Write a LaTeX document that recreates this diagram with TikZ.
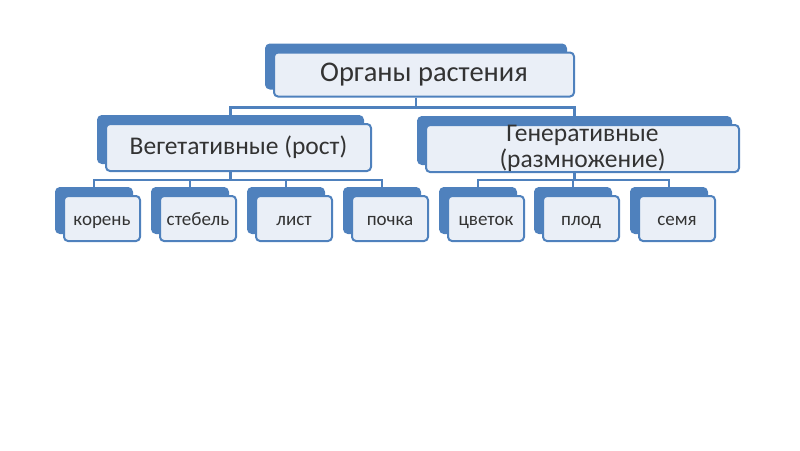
\documentclass[tikz,border=0pt]{standalone}
\usepackage{fontspec}
\setmainfont{Carlito}
\usetikzlibrary{shadows,backgrounds}
\definecolor{orgblue}{RGB}{79,129,189}
\definecolor{orgfill}{RGB}{234,239,247}
\tikzset{
  orgbox/.style = {draw=orgblue, fill=orgfill, line width=2pt,
    rounded corners=4pt, align=center, inner sep=1pt, text=black!80,
    general shadow={draw=orgblue, fill=orgblue, line width=2pt,
      shadow xshift=-8pt, shadow yshift=8pt}},% back plate up left
  org_top/.style  = {orgbox, minimum width=300pt, minimum height=44pt,
    font=\fontsize{28.5}{30}\selectfont},
  org_mid/.style  = {orgbox, minimum height=47pt,
    font=\fontsize{25.5}{26.5}\selectfont},
  org_leaf/.style = {orgbox, minimum width=76pt, minimum height=45pt,
    text height=14pt, text depth=1pt, font=\fontsize{19}{21}\selectfont},
  orgline/.style  = {draw=orgblue, line width=2.5pt}
}

\begin{document}
\begin{tikzpicture}[x=1pt,y=-1pt]
\useasboundingbox (0,0) rectangle (800,450);

\node [org_top] (org) at (424,74.5) {Органы растения};

\node [org_mid, minimum width=265pt] (veg) at (238.5,147.5) {Вегетативные (рост)};
\node [org_mid, minimum width=313pt, inner ysep=-4pt] (gen) at (582.5,148.5) {Генеративные\\(размножение)};

\node [org_leaf] (kor) at (102,218.5) {корень};
\node [org_leaf] (ste) at (198,218.5) {стебель};
\node [org_leaf] (lis) at (294,218.5) {лист};
\node [org_leaf] (poc) at (390,218.5) {почка};
\node [org_leaf] (cve) at (486,218.5) {цветок};
\node [org_leaf] (plo) at (581,218.5) {плод};
\node [org_leaf] (sem) at (677,218.5) {семя};

\begin{scope}[on background layer]
\foreach \n in {veg,gen}
  \draw [orgline] ([xshift=-8pt]org.south) -- ++(0,10) -| ([shift={(-8pt,8pt)}]\n.north);
\foreach \n in {kor,ste,lis,poc}
  \draw [orgline] ([xshift=-8pt]veg.south) -- ++(0,8) -| ([shift={(-8pt,8pt)}]\n.north);
\foreach \n in {cve,plo,sem}
  \draw [orgline] ([xshift=-8pt]gen.south) -- ++(0,7) -| ([shift={(-8pt,8pt)}]\n.north);
\end{scope}
\end{tikzpicture}
\end{document}
